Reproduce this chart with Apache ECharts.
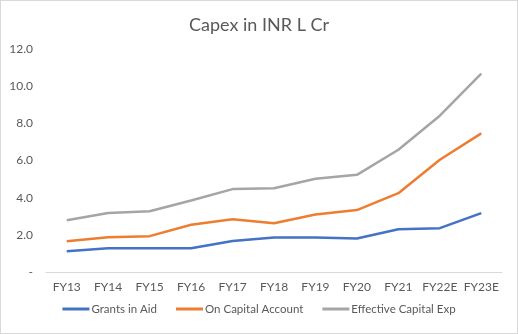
<!DOCTYPE html>
<html>
<head>
<meta charset="utf-8">
<script src="https://cdn.jsdelivr.net/npm/echarts@6/dist/echarts.min.js"></script>
<style>
  html, body { margin: 0; padding: 0; background: #fff; }
  #chart { width: 516px; height: 332px; border: 1px solid #d9d9d9; }
</style>
</head>
<body>
<div id="chart"></div>
<script>
// 横轴年份
var years = ['FY13', 'FY14', 'FY15', 'FY16', 'FY17', 'FY18', 'FY19', 'FY20', 'FY21', 'FY22E', 'FY23E'];
// 三条线的数据
var grantsInAid = [1.12, 1.28, 1.28, 1.28, 1.67, 1.85, 1.85, 1.80, 2.30, 2.36, 3.17];
var onCapitalAccount = [1.65, 1.87, 1.93, 2.54, 2.84, 2.62, 3.09, 3.33, 4.24, 6.04, 7.46];
var effectiveCapex = [2.79, 3.18, 3.27, 3.85, 4.46, 4.51, 5.02, 5.23, 6.58, 8.41, 10.68];

var font = 'Lato, "Open Sans", sans-serif';
var myChart = echarts.init(document.getElementById('chart'));

var option = {
  title: {
    text: 'Capex in INR L Cr',
    left: 'center',
    top: 10,
    textStyle: { fontFamily: font, fontSize: 18, fontWeight: 'normal', color: '#595959' }
  },
  legend: {
    bottom: 13,
    left: 'center',
    icon: 'rect',
    itemWidth: 27,
    itemHeight: 3,
    itemGap: 19,
    textStyle: { fontFamily: font, fontSize: 11.5, color: '#595959', padding: [0, 0, 0, -3] },
    data: ['Grants in Aid', 'On Capital Account', 'Effective Capital Exp']
  },
  grid: { left: 45, right: 15, top: 48, bottom: 61 },
  xAxis: {
    type: 'category',
    data: years,
    boundaryGap: true,
    axisLine: { lineStyle: { color: '#d9d9d9', width: 1 } },
    axisTick: { show: false },
    axisLabel: { fontFamily: font, fontSize: 12, color: '#595959', margin: 9, interval: 0 }
  },
  yAxis: {
    type: 'value',
    min: 0,
    max: 12,
    interval: 2,
    axisLine: { show: false },
    axisTick: { show: false },
    splitLine: { show: false },
    axisLabel: {
      fontFamily: font, fontSize: 12, color: '#595959', margin: 13,
      formatter: function (v) { return v === 0 ? '-' : v.toFixed(1); }
    }
  },
  series: [
    {
      name: 'Grants in Aid', type: 'line', data: grantsInAid,
      showSymbol: false, color: '#4472C4', lineStyle: { width: 2.5 }
    },
    {
      name: 'On Capital Account', type: 'line', data: onCapitalAccount,
      showSymbol: false, color: '#ED7D31', lineStyle: { width: 2.5 }
    },
    {
      name: 'Effective Capital Exp', type: 'line', data: effectiveCapex,
      showSymbol: false, color: '#A5A5A5', lineStyle: { width: 2.5 }
    }
  ]
};

myChart.setOption(option);
</script>
</body>
</html>
